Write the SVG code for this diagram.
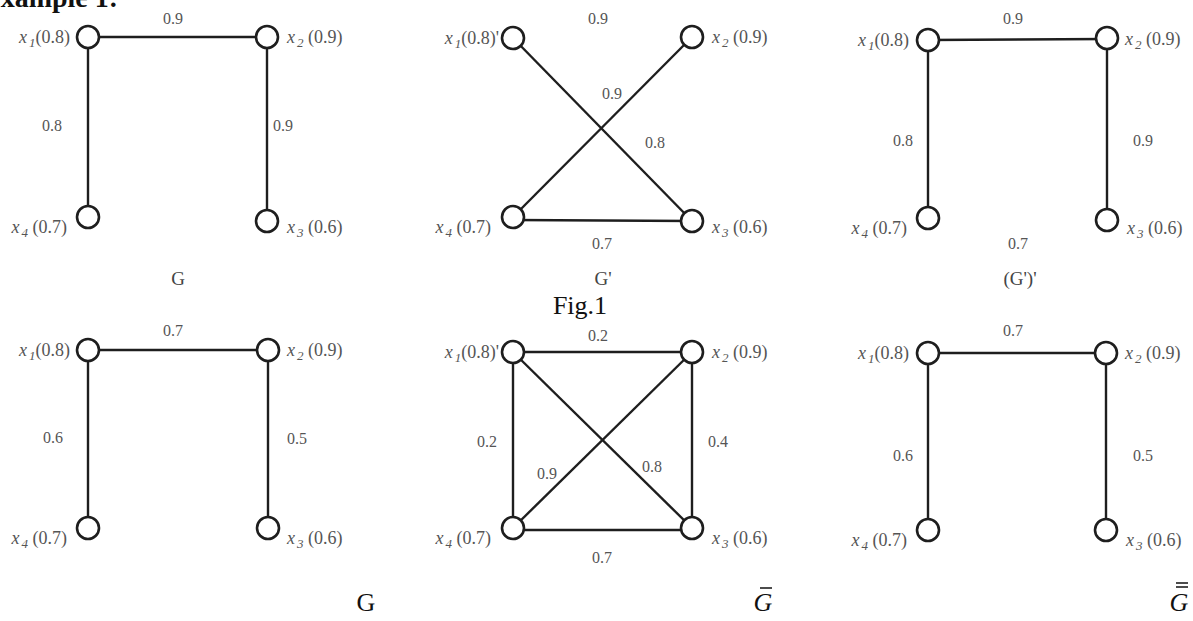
<svg xmlns="http://www.w3.org/2000/svg" width="1193" height="621" viewBox="0 0 1193 621">
<style>
.bg{fill:#fff}
.e{stroke:#1e1e1e;stroke-width:2.4;fill:none}
.n{fill:#fff;stroke:#1e1e1e;stroke-width:2.6}
.lab{font-family:"Liberation Serif",serif;font-size:18px;fill:#555}
.it{font-style:italic}
.sub{font-style:italic;font-size:13px}
.w{font-family:"Liberation Serif",serif;font-size:16px;fill:#555;text-anchor:middle}
.cap{font-family:"Liberation Serif",serif;font-size:19px;fill:#444;text-anchor:middle}
.big{font-family:"Liberation Serif",serif;font-size:26px;fill:#111;text-anchor:middle}
.head{font-family:"Liberation Serif",serif;font-size:28px;font-weight:bold;fill:#111}
.end{text-anchor:end}
</style>
<rect class="bg" x="0" y="0" width="1193" height="621"/>
<text class="head" x="-18" y="7">Example 1:</text>

<g id="connectors">
  <!-- top G -->
  <line class="e" x1="88" y1="37" x2="267" y2="37"/>
  <line class="e" x1="88" y1="37" x2="88" y2="217"/>
  <line class="e" x1="267" y1="37" x2="267" y2="221"/>
  <!-- top G' -->
  <line class="e" x1="513" y1="38" x2="692" y2="221"/>
  <line class="e" x1="692" y1="37" x2="513" y2="217"/>
  <line class="e" x1="513" y1="220" x2="692" y2="221"/>
  <!-- top (G')' -->
  <line class="e" x1="928" y1="40" x2="1107" y2="39"/>
  <line class="e" x1="928" y1="40" x2="928" y2="218"/>
  <line class="e" x1="1107" y1="38" x2="1107" y2="220"/>
  <!-- bottom G -->
  <line class="e" x1="88" y1="350" x2="268" y2="350"/>
  <line class="e" x1="88" y1="350" x2="88" y2="528"/>
  <line class="e" x1="268" y1="350" x2="268" y2="528"/>
  <!-- bottom G bar -->
  <line class="e" x1="513" y1="352" x2="692" y2="352"/>
  <line class="e" x1="513" y1="352" x2="513" y2="528"/>
  <line class="e" x1="692" y1="352" x2="692" y2="528"/>
  <line class="e" x1="513" y1="352" x2="692" y2="528"/>
  <line class="e" x1="692" y1="352" x2="513" y2="528"/>
  <line class="e" x1="513" y1="530" x2="692" y2="530"/>
  <!-- bottom G double bar -->
  <line class="e" x1="928" y1="353" x2="1106" y2="353"/>
  <line class="e" x1="928" y1="353" x2="928" y2="530"/>
  <line class="e" x1="1106" y1="353" x2="1106" y2="530"/>
</g>

<g id="edge-labels">
  <text class="w" x="173" y="24">0.9</text>
  <text class="w" x="52" y="131">0.8</text>
  <text class="w" x="283" y="131">0.9</text>
  <text class="w" x="598" y="24">0.9</text>
  <text class="w" x="612" y="99">0.9</text>
  <text class="w" x="655" y="148">0.8</text>
  <text class="w" x="602" y="249">0.7</text>
  <text class="w" x="1013" y="24">0.9</text>
  <text class="w" x="903" y="146">0.8</text>
  <text class="w" x="1143" y="146">0.9</text>
  <text class="w" x="1018" y="249">0.7</text>
  <text class="w" x="173" y="336">0.7</text>
  <text class="w" x="53" y="443">0.6</text>
  <text class="w" x="297" y="444">0.5</text>
  <text class="w" x="598" y="341">0.2</text>
  <text class="w" x="487" y="447">0.2</text>
  <text class="w" x="718" y="447">0.4</text>
  <text class="w" x="547" y="479">0.9</text>
  <text class="w" x="652" y="472">0.8</text>
  <text class="w" x="602" y="563">0.7</text>
  <text class="w" x="1013" y="336">0.7</text>
  <text class="w" x="903" y="461">0.6</text>
  <text class="w" x="1143" y="461">0.5</text>
</g>

<!-- Top G -->
<g id="G-x1"><circle class="n" cx="88" cy="37" r="11"/><text class="lab end" x="70" y="43"><tspan class="it">x</tspan><tspan class="sub" dx="2" dy="4">1</tspan><tspan dy="-4">(0.8)</tspan></text></g>
<g id="G-x2"><circle class="n" cx="267" cy="37" r="11"/><text class="lab" x="287" y="43"><tspan class="it">x</tspan><tspan class="sub" dx="2" dy="4">2</tspan><tspan dy="-4"> (0.9)</tspan></text></g>
<g id="G-x4"><circle class="n" cx="88" cy="217" r="11"/><text class="lab end" x="67" y="233"><tspan class="it">x</tspan><tspan class="sub" dx="2" dy="4">4</tspan><tspan dy="-4"> (0.7)</tspan></text></g>
<g id="G-x3"><circle class="n" cx="267" cy="221" r="11"/><text class="lab" x="287" y="233"><tspan class="it">x</tspan><tspan class="sub" dx="2" dy="4">3</tspan><tspan dy="-4"> (0.6)</tspan></text></g>

<!-- Top G' -->
<g id="Gp-x1"><circle class="n" cx="513" cy="38" r="11"/><text class="lab end" x="499" y="44"><tspan class="it">x</tspan><tspan class="sub" dx="2" dy="4">1</tspan><tspan dy="-4">(0.8)'</tspan></text></g>
<g id="Gp-x2"><circle class="n" cx="692" cy="37" r="11"/><text class="lab" x="712" y="43"><tspan class="it">x</tspan><tspan class="sub" dx="2" dy="4">2</tspan><tspan dy="-4"> (0.9)</tspan></text></g>
<g id="Gp-x4"><circle class="n" cx="513" cy="217" r="11"/><text class="lab end" x="491" y="233"><tspan class="it">x</tspan><tspan class="sub" dx="2" dy="4">4</tspan><tspan dy="-4"> (0.7)</tspan></text></g>
<g id="Gp-x3"><circle class="n" cx="692" cy="221" r="11"/><text class="lab" x="712" y="233"><tspan class="it">x</tspan><tspan class="sub" dx="2" dy="4">3</tspan><tspan dy="-4"> (0.6)</tspan></text></g>

<!-- Top (G')' -->
<g id="Gpp-x1"><circle class="n" cx="928" cy="40" r="11"/><text class="lab end" x="909" y="46"><tspan class="it">x</tspan><tspan class="sub" dx="2" dy="4">1</tspan><tspan dy="-4">(0.8)</tspan></text></g>
<g id="Gpp-x2"><circle class="n" cx="1107" cy="38" r="11"/><text class="lab" x="1125" y="45"><tspan class="it">x</tspan><tspan class="sub" dx="2" dy="4">2</tspan><tspan dy="-4"> (0.9)</tspan></text></g>
<g id="Gpp-x4"><circle class="n" cx="928" cy="218" r="11"/><text class="lab end" x="907" y="234"><tspan class="it">x</tspan><tspan class="sub" dx="2" dy="4">4</tspan><tspan dy="-4"> (0.7)</tspan></text></g>
<g id="Gpp-x3"><circle class="n" cx="1107" cy="220" r="11"/><text class="lab" x="1127" y="234"><tspan class="it">x</tspan><tspan class="sub" dx="2" dy="4">3</tspan><tspan dy="-4"> (0.6)</tspan></text></g>

<!-- Bottom G -->
<g id="B1-x1"><circle class="n" cx="88" cy="350" r="11"/><text class="lab end" x="70" y="356"><tspan class="it">x</tspan><tspan class="sub" dx="2" dy="4">1</tspan><tspan dy="-4">(0.8)</tspan></text></g>
<g id="B1-x2"><circle class="n" cx="268" cy="350" r="11"/><text class="lab" x="287" y="356"><tspan class="it">x</tspan><tspan class="sub" dx="2" dy="4">2</tspan><tspan dy="-4"> (0.9)</tspan></text></g>
<g id="B1-x4"><circle class="n" cx="88" cy="528" r="11"/><text class="lab end" x="67" y="544"><tspan class="it">x</tspan><tspan class="sub" dx="2" dy="4">4</tspan><tspan dy="-4"> (0.7)</tspan></text></g>
<g id="B1-x3"><circle class="n" cx="268" cy="528" r="11"/><text class="lab" x="287" y="544"><tspan class="it">x</tspan><tspan class="sub" dx="2" dy="4">3</tspan><tspan dy="-4"> (0.6)</tspan></text></g>

<!-- Bottom G bar -->
<g id="B2-x1"><circle class="n" cx="513" cy="352" r="11"/><text class="lab end" x="499" y="358"><tspan class="it">x</tspan><tspan class="sub" dx="2" dy="4">1</tspan><tspan dy="-4">(0.8)'</tspan></text></g>
<g id="B2-x2"><circle class="n" cx="692" cy="352" r="11"/><text class="lab" x="712" y="358"><tspan class="it">x</tspan><tspan class="sub" dx="2" dy="4">2</tspan><tspan dy="-4"> (0.9)</tspan></text></g>
<g id="B2-x4"><circle class="n" cx="513" cy="528" r="11"/><text class="lab end" x="491" y="544"><tspan class="it">x</tspan><tspan class="sub" dx="2" dy="4">4</tspan><tspan dy="-4"> (0.7)</tspan></text></g>
<g id="B2-x3"><circle class="n" cx="692" cy="528" r="11"/><text class="lab" x="712" y="544"><tspan class="it">x</tspan><tspan class="sub" dx="2" dy="4">3</tspan><tspan dy="-4"> (0.6)</tspan></text></g>

<!-- Bottom G double bar -->
<g id="B3-x1"><circle class="n" cx="928" cy="353" r="11"/><text class="lab end" x="909" y="359"><tspan class="it">x</tspan><tspan class="sub" dx="2" dy="4">1</tspan><tspan dy="-4">(0.8)</tspan></text></g>
<g id="B3-x2"><circle class="n" cx="1106" cy="353" r="11"/><text class="lab" x="1125" y="359"><tspan class="it">x</tspan><tspan class="sub" dx="2" dy="4">2</tspan><tspan dy="-4"> (0.9)</tspan></text></g>
<g id="B3-x4"><circle class="n" cx="928" cy="530" r="11"/><text class="lab end" x="907" y="546"><tspan class="it">x</tspan><tspan class="sub" dx="2" dy="4">4</tspan><tspan dy="-4"> (0.7)</tspan></text></g>
<g id="B3-x3"><circle class="n" cx="1106" cy="530" r="11"/><text class="lab" x="1126" y="546"><tspan class="it">x</tspan><tspan class="sub" dx="2" dy="4">3</tspan><tspan dy="-4"> (0.6)</tspan></text></g>

<g id="captions">
  <text class="cap" x="178" y="285">G</text>
  <text class="cap" x="603" y="285">G'</text>
  <text class="cap" x="1020" y="285">(G')'</text>
  <text class="big" x="580" y="314">Fig.1</text>
  <text class="big" x="366" y="611">G</text>
  <text class="big" x="763" y="611" font-style="italic">G</text>
  <line x1="760" y1="588" x2="772" y2="588" stroke="#111" stroke-width="1.5"/>
  <text class="big" x="1179" y="611" font-style="italic">G</text>
  <line x1="1176" y1="587" x2="1188" y2="587" stroke="#111" stroke-width="1.5"/>
  <line x1="1176" y1="583" x2="1188" y2="583" stroke="#111" stroke-width="1.5"/>
</g>
</svg>
